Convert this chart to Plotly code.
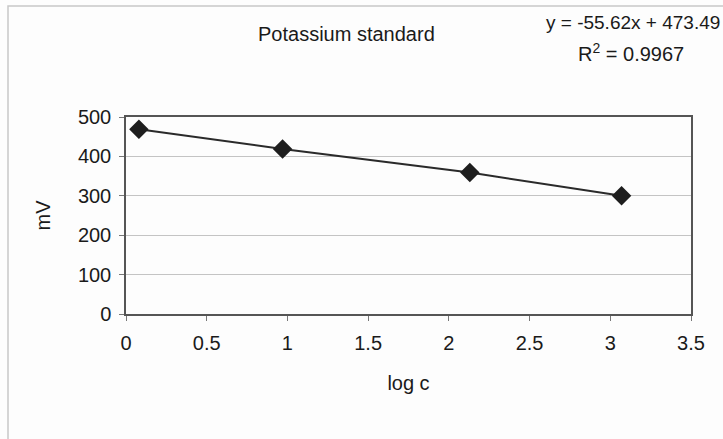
import plotly.graph_objects as go

log_c = [0.08, 0.97, 2.13, 3.07]
mv = [469, 419, 359, 300]
x_ticks = [0, 0.5, 1, 1.5, 2, 2.5, 3, 3.5]
x_tick_labels = ["0", "0.5", "1", "1.5", "2", "2.5", "3", "3.5"]
y_ticks = [0, 100, 200, 300, 400, 500]
y_tick_labels = ["0", "100", "200", "300", "400", "500"]
title = "Potassium standard"
equation = "y = -55.62x + 473.49"
r2 = "R<sup>2</sup> = 0.9967"

FONT = "Liberation Sans, Arial, sans-serif"

W, H = 723, 439
L, R, T, B = 126, 32, 117, 125
PW, PH = W - L - R, H - T - B


def px(X):
    return (X - L) / PW


def py(Y):
    return (H - B - Y) / PH


fig = go.Figure()
fig.add_trace(go.Scatter(
    x=log_c, y=mv, mode="lines+markers",
    line=dict(color="#2a2a2a", width=2),
    marker=dict(symbol="diamond", size=15, color="#1e1e1e"),
    showlegend=False, cliponaxis=False,
))

fig.update_layout(
    width=W, height=H,
    margin=dict(l=L, r=R, t=T, b=B),
    paper_bgcolor="#fdfdfd", plot_bgcolor="#fdfdfd",
    font=dict(family=FONT, color="#1a1a1a", size=20),
    xaxis=dict(
        range=[0, 3.5], tickvals=x_ticks, ticktext=x_tick_labels,
        showgrid=False, zeroline=False,
        showline=True, linecolor="#555555", linewidth=1.5, mirror=True,
        ticks="outside", ticklen=5, tickcolor="#777777",
        tickfont=dict(size=20), ticklabelstandoff=5,
        title=dict(text="log c", font=dict(size=20), standoff=23),
    ),
    yaxis=dict(
        range=[0, 500], tickvals=y_ticks, ticktext=y_tick_labels,
        showgrid=True, gridcolor="#c4c4c4", gridwidth=1, zeroline=False,
        showline=True, linecolor="#555555", linewidth=1.5, mirror=True,
        ticks="outside", ticklen=5, tickcolor="#777777",
        tickfont=dict(size=20), ticklabelstandoff=4,
        title=dict(text="mV", font=dict(size=20), standoff=22),
    ),
    shapes=[dict(
        type="rect", xref="paper", yref="paper",
        x0=px(8), x1=px(735), y0=py(450), y1=py(6),
        line=dict(color="#c8c8c8", width=1.5), fillcolor="rgba(0,0,0,0)",
        layer="below",
    )],
    annotations=[
        dict(text=title, xref="paper", yref="paper",
             x=px(346), y=py(34), showarrow=False,
             font=dict(size=20), xanchor="center", yanchor="middle"),
        dict(text=equation, xref="paper", yref="paper",
             x=px(722), y=py(22), showarrow=False,
             font=dict(size=19), xanchor="right", yanchor="middle"),
        dict(text=r2, xref="paper", yref="paper",
             x=px(631), y=py(53), showarrow=False,
             font=dict(size=20), xanchor="center", yanchor="middle"),
    ],
)

fig.write_html("out.html", config={"displayModeBar": False},
               post_script="document.body.style.margin='0';")
